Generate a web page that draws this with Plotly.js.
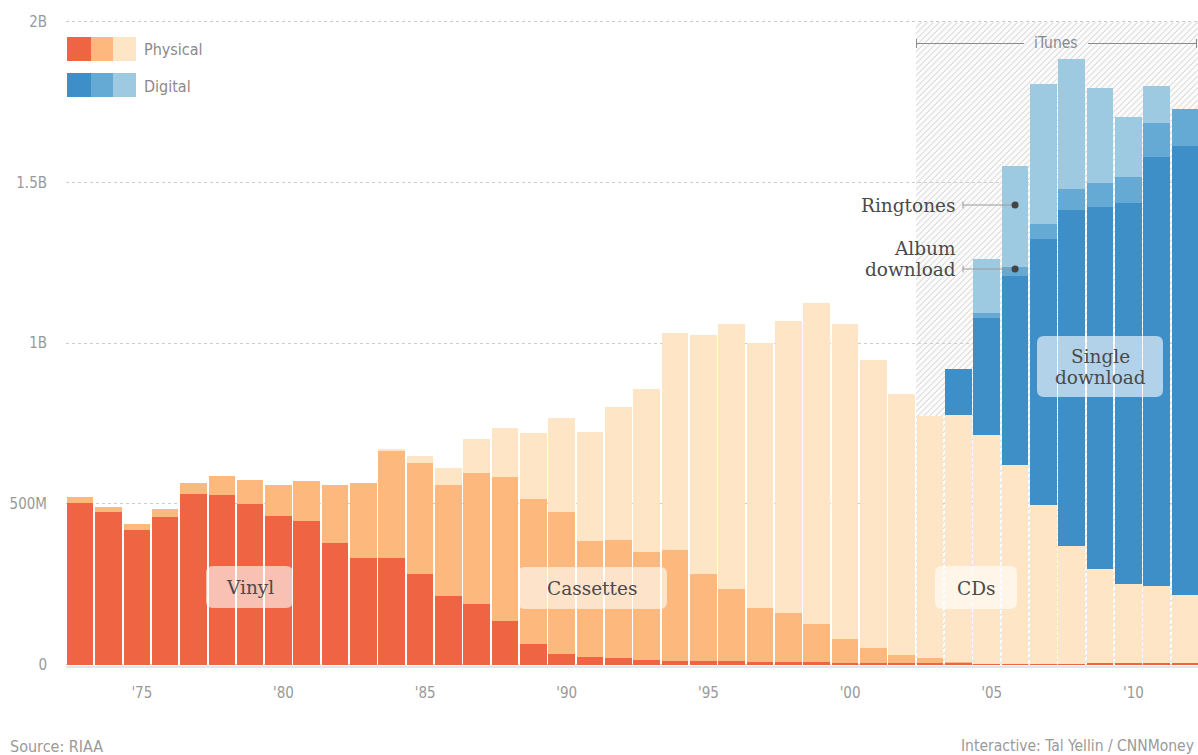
<!DOCTYPE html>
<html>
<head>
<meta charset="utf-8">
<script src="https://cdn.plot.ly/plotly-3.0.1.min.js"></script>
<style>
  html, body { margin: 0; padding: 0; background: #ffffff; }
  #chart { width: 1198px; height: 755px; }
</style>
</head>
<body>
<div id="chart"></div>
<script>
// US recorded music sales by format, units in millions (RIAA)
const years = [1973, 1974, 1975, 1976, 1977, 1978, 1979, 1980, 1981, 1982,
               1983, 1984, 1985, 1986, 1987, 1988, 1989, 1990, 1991, 1992,
               1993, 1994, 1995, 1996, 1997, 1998, 1999, 2000, 2001, 2002,
               2003, 2004, 2005, 2006, 2007, 2008, 2009, 2010, 2011, 2012];

// Physical formats
const vinyl     = [501, 473, 420, 458, 530, 526, 500, 461, 448, 377,
                   330, 330, 283, 212, 187, 134, 65, 34, 22, 19,
                   14, 12, 11, 11, 9, 8, 7, 6, 6, 5,
                   4, 4, 1, 1, 1, 2, 4, 5, 6, 6];
const cassettes = [19, 16, 16, 25, 35, 62, 73, 97, 122, 181,
                   235, 333, 343, 348, 408, 448, 449, 442, 361, 367,
                   335, 343, 272, 223, 168, 151, 118, 72, 44, 26,
                   15, 5, 2, 1, 0.5, 0, 0, 0, 0, 0];
const cds       = [0, 0, 0, 0, 0, 0, 0, 0, 0, 0,
                   0, 6, 22, 50, 106, 153, 205, 290, 339, 414,
                   507, 675, 741, 824, 822, 909, 999, 980, 896, 810,
                   753, 766, 710, 618, 496, 368, 292, 247, 237, 209];

// Digital formats
const singleDownload = [0, 0, 0, 0, 0, 0, 0, 0, 0, 0,
                        0, 0, 0, 0, 0, 0, 0, 0, 0, 0,
                        0, 0, 0, 0, 0, 0, 0, 0, 0, 0,
                        0, 143, 364, 588, 825, 1043, 1127, 1183, 1335, 1398];
const albumDownload  = [0, 0, 0, 0, 0, 0, 0, 0, 0, 0,
                        0, 0, 0, 0, 0, 0, 0, 0, 0, 0,
                        0, 0, 0, 0, 0, 0, 0, 0, 0, 0,
                        0, 0, 16, 28, 47, 66, 75, 81, 106, 115];
const ringtones      = [0, 0, 0, 0, 0, 0, 0, 0, 0, 0,
                        0, 0, 0, 0, 0, 0, 0, 0, 0, 0,
                        0, 0, 0, 0, 0, 0, 0, 0, 0, 0,
                        0, 0, 168, 314, 436, 405, 295, 187, 116, 0];

const tickYears  = [1975, 1980, 1985, 1990, 1995, 2000, 2005, 2010];
const tickLabels = ["'75", "'80", "'85", "'90", "'95", "'00", "'05", "'10"];
const valueTicks = [0, 500, 1000, 1500, 2000];
const valueLabels = ['0', '500M', '1B', '1.5B', '2B'];

const itunesStart = 2003;

// colours
const C = {
  vinyl: '#ef6443', cassettes: '#fdb87d', cds: '#fee5c5',
  single: '#3e8fc7', album: '#65a9d5', ringtones: '#9ecae1'
};

// frame geometry (pixels)
const W = 1198, H = 755;
const M = { l: 66, r: 0, t: 10, b: 89 };
const plotW = W - M.l - M.r, plotH = H - M.t - M.b;
const pxPerYear = 28.33;
const x0 = years[0] - 0.5;
const x1 = x0 + plotW / pxPerYear;
const zeroPx = 664.5, pxPerUnit = 0.3214;     // y pixel of 0, pixels per million
const y0 = (zeroPx - (M.t + plotH)) / pxPerUnit;
const y1 = (zeroPx - M.t) / pxPerUnit;

// pixel -> axis / paper conversions for decorations
const xd = px => x0 + (px - M.l) / pxPerYear;
const yd = py => (zeroPx - py) / pxPerUnit;
const xp = px => (px - M.l) / plotW;
const yp = py => (M.t + plotH - py) / plotH;

const CONDENSED = '"DejaVu Sans Condensed", "Liberation Sans Narrow", "DejaVu Sans", sans-serif';
const SERIF = '"DejaVu Serif", "Liberation Serif", serif';

function barTrace(name, values, color) {
  return {
    type: 'bar', name: name, x: years, y: values,
    marker: { color: color, line: { width: 0 } },
    hoverinfo: 'skip', showlegend: false
  };
}

const data = [
  barTrace('Vinyl', vinyl, C.vinyl),
  barTrace('Cassettes', cassettes, C.cassettes),
  barTrace('CDs', cds, C.cds),
  barTrace('Single download', singleDownload, C.single),
  barTrace('Album download', albumDownload, C.album),
  barTrace('Ringtones', ringtones, C.ringtones)
];

// rounded label box, drawn in axis units from pixel corners
function roundBox(px0, py0, px1, py1, r, fill) {
  const P = (a, b) => xd(a) + ',' + yd(b);
  const path = 'M' + P(px0 + r, py0) + ' L' + P(px1 - r, py0) +
    ' Q' + P(px1, py0) + ' ' + P(px1, py0 + r) +
    ' L' + P(px1, py1 - r) +
    ' Q' + P(px1, py1) + ' ' + P(px1 - r, py1) +
    ' L' + P(px0 + r, py1) +
    ' Q' + P(px0, py1) + ' ' + P(px0, py1 - r) +
    ' L' + P(px0, py0 + r) +
    ' Q' + P(px0, py0) + ' ' + P(px0 + r, py0) + ' Z';
  return { type: 'path', xref: 'x', yref: 'y', path: path,
           fillcolor: fill, line: { width: 0 }, layer: 'above' };
}

function pxLine(ax, ay, bx, by, color, width) {
  return { type: 'line', xref: 'x', yref: 'y',
           x0: xd(ax), y0: yd(ay), x1: xd(bx), y1: yd(by),
           line: { color: color, width: width || 1 }, layer: 'above' };
}

function dot(year, value) {
  return { type: 'circle', xref: 'x', yref: 'y', xsizemode: 'pixel', ysizemode: 'pixel',
           xanchor: year, yanchor: value, x0: -3.5, x1: 3.5, y0: -3.5, y1: 3.5,
           fillcolor: '#444444', line: { width: 0 }, layer: 'above' };
}

function swatch(pxA, pxB, pyA, pyB, color) {
  return { type: 'rect', xref: 'paper', yref: 'paper',
           x0: xp(pxA), x1: xp(pxB), y0: yp(pyB), y1: yp(pyA),
           fillcolor: color, line: { width: 0 }, layer: 'above' };
}

const shapes = [
  // legend swatches
  swatch(67, 91, 37, 61, C.vinyl), swatch(91, 113, 37, 61, C.cassettes), swatch(113, 136, 37, 61, C.cds),
  swatch(67, 91, 73, 97, C.single), swatch(91, 113, 73, 97, C.album), swatch(113, 136, 73, 97, C.ringtones),
  // format label boxes
  roundBox(206, 566, 293, 608, 7, 'rgba(255,255,255,0.6)'),
  roundBox(518, 567, 667, 609, 7, 'rgba(255,255,255,0.6)'),
  roundBox(935, 566, 1017, 609, 7, 'rgba(255,255,255,0.6)'),
  roundBox(1037, 336, 1163, 397, 7, 'rgba(255,255,255,0.6)'),
  // iTunes bracket
  pxLine(916.5, 43.5, 1024, 43.5, '#8c8c8c', 1),
  pxLine(1088, 43.5, 1196.5, 43.5, '#8c8c8c', 1),
  pxLine(916.5, 39, 916.5, 48, '#8c8c8c', 1),
  pxLine(1196.5, 39, 1196.5, 48, '#8c8c8c', 1),
  // leaders to the 2006 bar
  pxLine(963, 205, 1015, 205, '#9a9a9a', 1),
  pxLine(963, 201.5, 963, 208.5, '#9a9a9a', 1),
  pxLine(963, 269, 1015, 269, '#9a9a9a', 1),
  pxLine(963, 265.5, 963, 272.5, '#9a9a9a', 1),
  dot(2006, yd(205)),
  dot(2006, yd(269))
];

function label(text, px, py, opts) {
  opts = opts || {};
  return Object.assign({
    text: text, xref: 'x', yref: 'y', x: xd(px), y: yd(py),
    xanchor: 'center', yanchor: 'middle', showarrow: false,
    font: { family: SERIF, size: 18.5, color: '#4a4a4a' }
  }, opts);
}

function note(text, px, py, anchor, size, color) {
  return {
    text: text, xref: 'paper', yref: 'paper', x: xp(px), y: yp(py),
    xanchor: anchor, yanchor: 'middle', showarrow: false,
    font: { family: CONDENSED, size: size, color: color }
  };
}

const annotations = [
  note('Physical', 142, 49, 'left', 16, '#8a8a8a'),
  note('Digital', 142, 86, 'left', 16, '#8a8a8a'),
  note('iTunes', 1056, 43, 'center', 15.5, '#8a8a8a'),
  note('Source: RIAA', 8, 746, 'left', 16, '#9a9a9a'),
  note('Interactive: Tal Yellin / CNNMoney', 1196, 746, 'right', 15.5, '#9a9a9a'),
  label('Vinyl', 250, 587),
  label('Cassettes', 592, 588),
  label('CDs', 976, 588),
  label('Single', 1100, 356),
  label('download', 1100, 377),
  label('Ringtones', 958, 205, { xanchor: 'right' }),
  label('Album', 958, 248, { xanchor: 'right' }),
  label('download', 958, 269, { xanchor: 'right' })
];

// diagonal hatching behind the iTunes years
const hatchW = (x1 - (itunesStart - 0.5)) * pxPerYear;
const hatchH = 2000 * pxPerUnit;
const hatchSvg =
  '<svg xmlns="http://www.w3.org/2000/svg" width="' + hatchW + '" height="' + hatchH + '" ' +
  'viewBox="0 0 ' + hatchW + ' ' + hatchH + '" preserveAspectRatio="none">' +
  '<defs><pattern id="h" patternUnits="userSpaceOnUse" width="6" height="6">' +
  '<path d="M-1,1 l2,-2 M0,6 l6,-6 M5,7 l2,-2" stroke="#cfcfcf" stroke-width="1"/>' +
  '</pattern></defs>' +
  '<rect width="100%" height="100%" fill="#fbfbfb"/>' +
  '<rect width="100%" height="100%" fill="url(#h)"/></svg>';

const layout = {
  width: W, height: H,
  margin: M,
  paper_bgcolor: '#ffffff',
  plot_bgcolor: '#ffffff',
  barmode: 'stack',
  bargap: 0.06,
  showlegend: false,
  hovermode: false,
  font: { family: CONDENSED, color: '#999999' },
  xaxis: {
    range: [x0, x1],
    tickvals: tickYears, ticktext: tickLabels,
    ticks: '', ticklabelstandoff: 12, ticklabelshift: 5,
    tickfont: { family: CONDENSED, size: 15, color: '#999999' },
    showgrid: false, zeroline: false,
    showline: true, linecolor: '#e4e4e4', linewidth: 2,
    fixedrange: true
  },
  yaxis: {
    range: [y0, y1],
    tickvals: valueTicks, ticktext: valueLabels,
    ticks: '', ticklabelstandoff: 18,
    tickfont: { family: CONDENSED, size: 15, color: '#999999' },
    showgrid: true, gridcolor: '#cccccc', gridwidth: 1, griddash: 'dot',
    zeroline: false, showline: false,
    fixedrange: true
  },
  images: [{
    source: 'data:image/svg+xml;charset=utf-8,' + encodeURIComponent(hatchSvg),
    xref: 'x', yref: 'y',
    x: itunesStart - 0.5, y: 2000,
    sizex: x1 - (itunesStart - 0.5), sizey: 2000,
    xanchor: 'left', yanchor: 'top',
    sizing: 'stretch', layer: 'below'
  }],
  shapes: shapes,
  annotations: annotations
};

Plotly.newPlot('chart', data, layout, { displayModeBar: false, staticPlot: true });
</script>
</body>
</html>
